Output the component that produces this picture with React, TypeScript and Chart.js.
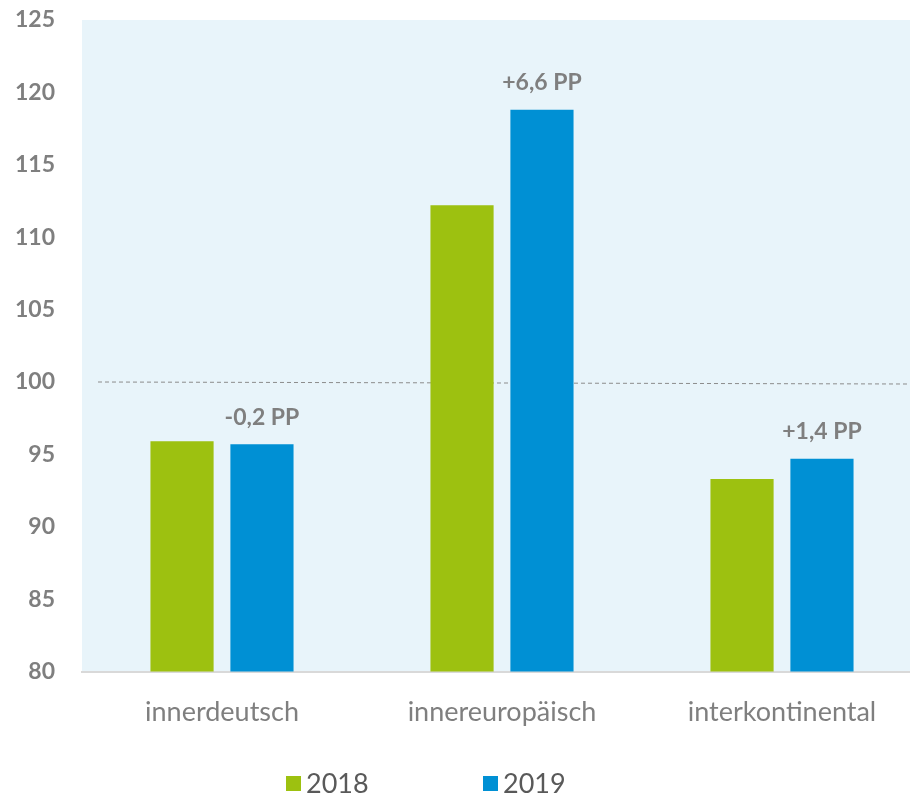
import React, { useEffect, useRef } from "react";
import { Chart, registerables } from "chart.js";

Chart.register(...registerables);

const categories = ["innerdeutsch", "innereuropäisch", "interkontinental"];
const values2018 = [95.9, 112.2, 93.3];
const values2019 = [95.7, 118.8, 94.7];
const changeLabels = ["-0,2 PP", "+6,6 PP", "+1,4 PP"];
const seriesNames = ["2018", "2019"];
const referenceValue = 100;

const GREEN = "#9DC110";
const BLUE = "#0090D4";
const FONT = "Lato, 'Open Sans', sans-serif";

export default function App() {
  const ref = useRef<HTMLCanvasElement | null>(null);

  useEffect(() => {
    document.body.style.margin = "0";
    const canvas = ref.current;
    if (!canvas) return;

    const bgPlugin = {
      id: "bg",
      beforeDraw(chart: any) {
        const { ctx, chartArea } = chart;
        ctx.save();
        ctx.fillStyle = "#E8F4FA";
        ctx.fillRect(chartArea.left, chartArea.top, chartArea.right - chartArea.left, chartArea.bottom - chartArea.top);
        ctx.restore();
      },
      beforeDatasetsDraw(chart: any) {
        const { ctx, chartArea, scales } = chart;
        const y = scales.y.getPixelForValue(referenceValue);
        ctx.save();
        ctx.strokeStyle = "#8C8C8C";
        ctx.lineWidth = 1;
        ctx.setLineDash([4, 3]);
        ctx.beginPath();
        ctx.moveTo(chartArea.left + 16, y);
        ctx.lineTo(907, y + 2);
        ctx.stroke();
        ctx.restore();
      },
      afterDatasetsDraw(chart: any) {
        const { ctx } = chart;
        const meta = chart.getDatasetMeta(1);
        ctx.save();
        ctx.fillStyle = "#7F7F7F";
        ctx.font = `bold 23px ${FONT}`;
        ctx.textAlign = "center";
        ctx.textBaseline = "middle";
        meta.data.forEach((bar: any, i: number) => {
          ctx.fillText(changeLabels[i], bar.x, bar.y - 27);
        });
        ctx.restore();
      },
      afterDraw(chart: any) {
        const { ctx } = chart;
        const items = [
          { text: seriesNames[0], color: GREEN, x: 286 },
          { text: seriesNames[1], color: BLUE, x: 483 },
        ];
        const y = 783;
        ctx.save();
        ctx.font = `27px ${FONT}`;
        ctx.textBaseline = "middle";
        ctx.textAlign = "left";
        items.forEach((it) => {
          ctx.fillStyle = it.color;
          ctx.fillRect(it.x, y - 7, 15, 15);
          ctx.fillStyle = "#595959";
          ctx.fillText(it.text, it.x + 20, y + 1);
        });
        ctx.restore();
      },
    };

    const chart = new Chart(canvas, {
      type: "bar",
      data: {
        labels: categories,
        datasets: [
          { label: seriesNames[0], data: values2018, backgroundColor: GREEN, categoryPercentage: 0.571, barPercentage: 0.79 },
          { label: seriesNames[1], data: values2019, backgroundColor: BLUE, categoryPercentage: 0.571, barPercentage: 0.79 },
        ],
      },
      options: {
        animation: false,
        responsive: false,
        maintainAspectRatio: false,
        layout: { padding: { top: 20, right: 0, bottom: 43, left: 0 } },
        plugins: { legend: { display: false }, tooltip: { enabled: false } },
        scales: {
          x: {
            grid: { display: false, drawTicks: false },
            border: { display: true, color: "#D9D9D9", width: 2 },
            ticks: { color: "#7F7F7F", font: { family: FONT, size: 27 }, padding: 24 },
            afterFit: (scale: any) => {
              scale.paddingLeft = 0;
              scale.paddingRight = 0;
            },
          },
          y: {
            min: 80,
            max: 125,
            grid: { display: false, drawTicks: false },
            border: { display: false },
            ticks: { stepSize: 5, color: "#7F7F7F", font: { family: FONT, size: 23, weight: "bold" }, padding: 27 },
            afterFit: (scale: any) => {
              scale.width = 82;
              scale.paddingTop = 0;
              scale.paddingBottom = 0;
            },
          },
        },
      },
      plugins: [bgPlugin],
    });
    return () => chart.destroy();
  }, []);

  return (
    <div style={{ width: 910, height: 795, overflow: "hidden" }}>
      <canvas ref={ref} width={922} height={795} style={{ display: "block" }} />
    </div>
  );
}
